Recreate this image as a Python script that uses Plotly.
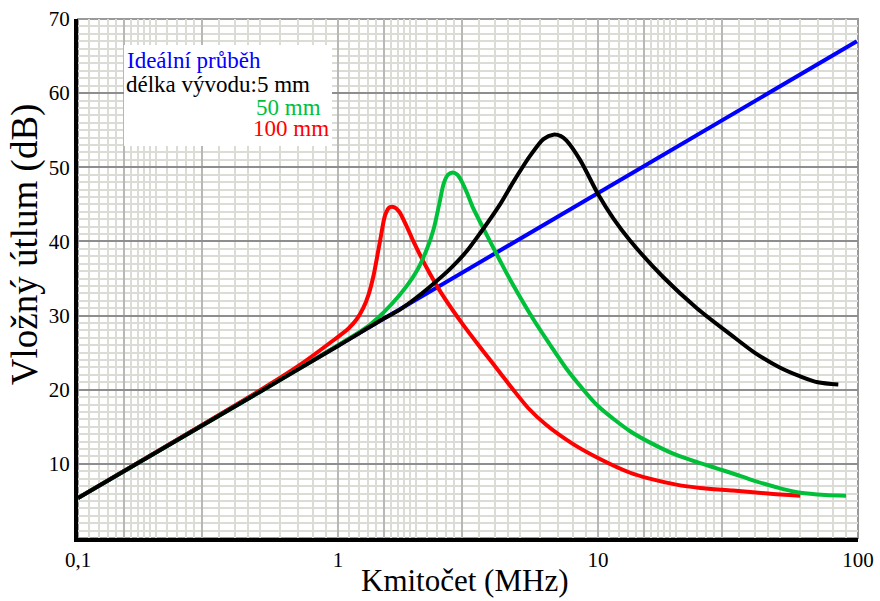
import plotly.graph_objects as go

# ---- data ----
ideal_f = [0.1, 99.0]
ideal_db = [5.4, 67.0]

black_f = [0.1, 0.5, 1.0, 1.5, 1.73, 2.0, 2.33, 2.7, 3.13, 3.52, 4.2, 4.72, 5.47, 6.17, 6.73,
           7.2, 7.57, 8.53, 10.0, 11.5, 13.3, 17.8, 24.0, 32.2, 40.0, 50.0, 60.0, 70.0, 84.0]
black_db = [5.4, 19.7, 25.9, 29.6, 30.8, 32.4, 34.3, 36.3, 38.7, 41.1, 45.0, 48.0, 51.5, 53.8, 54.4,
            54.2, 53.6, 51.0, 46.4, 43.0, 40.1, 35.2, 31.0, 27.5, 25.0, 23.0, 21.8, 21.0, 20.7]

green_f = [0.1, 0.5, 1.0, 1.33, 1.7, 2.0, 2.2, 2.33, 2.45, 2.55, 2.65, 2.76, 2.88, 3.0, 3.13,
           3.3, 3.62, 4.2, 4.6, 5.64, 6.5, 7.5, 8.5, 10.0, 13.3, 15.8, 20.0, 24.7, 28.6, 33.0,
           40.0, 51.6, 60.0, 75.0, 90.0]
green_db = [5.4, 19.7, 26.0, 28.8, 32.5, 35.9, 39.0, 41.6, 45.0, 47.8, 49.0, 49.3, 49.0, 48.0, 46.6,
            44.6, 41.8, 37.4, 34.8, 29.5, 26.2, 23.0, 20.6, 17.8, 14.4, 12.9, 11.2, 10.1, 9.4, 8.7,
            7.7, 6.6, 6.1, 5.8, 5.7]

red_f = [0.1, 0.5, 0.69, 0.93, 1.1, 1.18, 1.25, 1.31, 1.37, 1.45, 1.52, 1.58, 1.65, 1.72, 1.85,
         1.95, 2.26, 2.5, 3.05, 3.6, 4.2, 4.72, 5.4, 6.35, 8.0, 10.0, 13.3, 15.8, 20.0, 24.7,
         33.0, 45.0, 60.0]
red_db = [5.4, 19.9, 23.0, 26.3, 28.3, 29.5, 31.0, 32.8, 35.4, 40.0, 43.6, 44.6, 44.6, 44.0, 41.8,
          40.0, 35.6, 33.0, 28.6, 25.3, 22.3, 20.0, 17.5, 15.2, 12.7, 10.8, 8.8, 8.0, 7.2, 6.75,
          6.4, 6.0, 5.7]

x_tickvals = [0.1, 1, 10, 100]
x_ticktext = ["0,1", "1", "10", "100"]
y_tickvals = [10, 20, 30, 40, 50, 60, 70]

# grid of the log paper (multipliers inside one decade)
medium_mult = [1.5, 3.0]
minor_mult = [1.1, 1.2, 1.3, 1.4, 1.6, 1.7, 1.8, 1.9, 2.0, 2.2, 2.4, 2.6, 2.8,
              3.5, 4.0, 4.5, 5.0, 6.0, 7.0, 8.0, 9.0]
decades = [0.1, 1, 10]

major_x = list(x_tickvals)
major_txt = list(x_ticktext)
for d in decades:
    for m in medium_mult:
        major_x.append(round(d * m, 6))
        major_txt.append("")
minor_x = [round(d * m, 6) for d in decades for m in minor_mult]

FONT = "Liberation Serif"
GREEN = "#00c03a"

fig = go.Figure()
fig.add_trace(go.Scatter(x=ideal_f, y=ideal_db, mode="lines",
                         line=dict(color="#0000ff", width=4), name="Ideální průběh"))
fig.add_trace(go.Scatter(x=red_f, y=red_db, mode="lines",
                         line=dict(color="#ff0000", width=4, shape="spline", smoothing=0.8),
                         name="100 mm"))
fig.add_trace(go.Scatter(x=green_f, y=green_db, mode="lines",
                         line=dict(color=GREEN, width=4, shape="spline", smoothing=0.8),
                         name="50 mm"))
fig.add_trace(go.Scatter(x=black_f, y=black_db, mode="lines",
                         line=dict(color="#000000", width=4, shape="spline", smoothing=0.8),
                         name="5 mm"))

fig.update_layout(
    width=880, height=601,
    margin=dict(l=78, r=22, t=19, b=63, autoexpand=False),
    paper_bgcolor="white", plot_bgcolor="white",
    showlegend=False,
    font=dict(family=FONT, color="black", size=21),
    xaxis=dict(
        type="log", range=[-1, 2], automargin=False,
        tickmode="array", tickvals=major_x, ticktext=major_txt,
        showgrid=True, gridcolor="#b8b8b4", gridwidth=2,
        minor=dict(tickmode="array", tickvals=minor_x, showgrid=True,
                   gridcolor="#dcdcd6", gridwidth=1.5, ticks=""),
        showline=True, linecolor="black", linewidth=4,
        ticks="", zeroline=False,
        tickfont=dict(family=FONT, size=21, color="black"),
    ),
    yaxis=dict(
        range=[0, 70], automargin=False,
        tickmode="array", tickvals=y_tickvals,
        showgrid=True, gridcolor="#8e8e8e", gridwidth=1.5,
        minor=dict(dtick=1, showgrid=True, gridcolor="#dcdcd6", gridwidth=1.5, ticks=""),
        showline=True, linecolor="black", linewidth=4,
        ticks="", zeroline=False,
        tickfont=dict(family=FONT, size=21, color="black"),
    ),
)

# plot frame (top/right in grey)
fig.add_shape(type="rect", xref="x domain", yref="y domain", x0=0, x1=1, y0=0, y1=1,
              line=dict(color="#9a9a9a", width=2), layer="below")

# axis titles
fig.add_annotation(text="Kmitočet (MHz)", xref="paper", yref="paper",
                   x=0.496, y=-0.081, xanchor="center", yanchor="middle",
                   showarrow=False, font=dict(family=FONT, size=31, color="black"))
fig.add_annotation(text="Vložný útlum (dB)", xref="paper", yref="paper",
                   x=-0.068, y=0.566, xanchor="center", yanchor="middle",
                   textangle=-90, showarrow=False,
                   font=dict(family=FONT, size=37, color="black"))

# legend box (white panel)
fig.add_annotation(text=" ", xref="x domain", yref="y domain", x=0.059, y=0.949,
                   xanchor="left", yanchor="top", showarrow=False,
                   width=208, height=101, bgcolor="white", borderpad=0, borderwidth=0,
                   font=dict(size=10))

ann = [
    ("Ideální průběh", "#0000ff", 0.060, 0.920),
    ("délka vývodu:5 mm", "black", 0.059, 0.874),
    ("50 mm", GREEN, 0.225, 0.830),
    ("100 mm", "#ff0000", 0.222, 0.789),
]
for txt, col, x, y in ann:
    fig.add_annotation(text=txt, xref="x domain", yref="y domain", x=x, y=y,
                       xanchor="left", yanchor="middle", showarrow=False,
                       font=dict(family=FONT, size=23, color=col))

fig.write_html("out.html")
